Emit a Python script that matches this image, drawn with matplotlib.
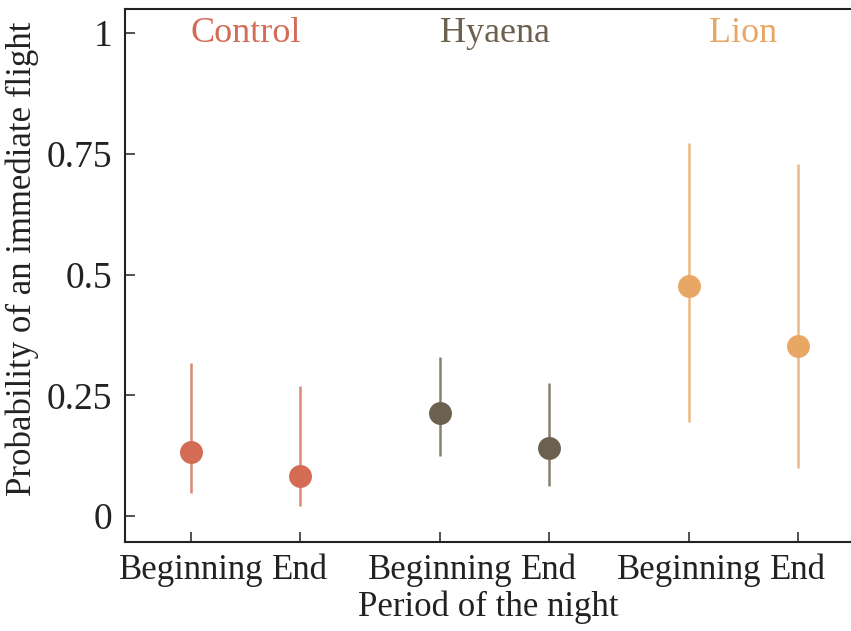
import matplotlib
matplotlib.use("Agg")
import matplotlib.pyplot as plt
import numpy as np

# Predator treatments and period of the night
groups = ["Control", "Hyaena", "Lion"]
periods = ["Beginning", "End"]

# Estimated probability of an immediate flight with 95% interval bounds
prob = [[0.133, 0.083], [0.213, 0.140], [0.477, 0.352]]
lower = [[0.048, 0.021], [0.125, 0.063], [0.194, 0.099]]
upper = [[0.316, 0.270], [0.330, 0.276], [0.772, 0.729]]

colors = ["#D36B55", "#6C604E", "#E8A765"]

yticks = [0, 0.25, 0.5, 0.75, 1]
yticklabels = ["0", "0.25", "0.5", "0.75", "1"]

plt.rcParams["font.family"] = ["Liberation Serif", "DejaVu Serif"]

W, H = 851, 631
fig = plt.figure(figsize=(W / 100, H / 100), dpi=100)
ax = fig.add_axes([125 / W, (H - 541.7) / H, (864 - 125) / W, (541.7 - 9) / H])

group_step = 2.285
xs, xlabels = [], []
for g, name in enumerate(groups):
    gx = np.arange(len(periods)) + g * group_step
    p = np.array(prob[g])
    lo = np.array(lower[g])
    hi = np.array(upper[g])
    ax.vlines(gx, lo, hi, color=colors[g], alpha=0.8, lw=1.8, zorder=2)
    ax.plot(gx, p, "o", color=colors[g], ms=16.5, mec="none", zorder=3)
    ax.text(gx.mean(), 1, name, color=colors[g], fontsize=26,
            ha="center", va="center")
    xs.extend(gx)
    xlabels.extend(periods)

ax.set_xticks(xs)
ax.set_xticklabels(xlabels, fontsize=25)
ax.set_yticks(yticks)
ax.set_yticklabels(yticklabels, fontsize=27)
ax.set_xlim(-0.607, xs[-1] + 0.607)
ax.set_ylim(-0.0532, 1.0497)

ax.tick_params(direction="in", length=7, width=1.2, color="#333333",
               labelcolor="#222222")
ax.tick_params(axis="y", pad=9)
ax.tick_params(axis="x", pad=9)
for side in ["left", "bottom", "top", "right"]:
    ax.spines[side].set_linewidth(1.5)
    ax.spines[side].set_color("#222222")

fig.text(22 / W, 1 - 259 / H, "Probability of an immediate flight",
         rotation=90, fontsize=25, ha="center", va="center", color="#222222")
fig.text(488 / W, 1 - 607 / H, "Period of the night",
         fontsize=25, ha="center", va="center", color="#222222")

fig.savefig("out.png", dpi=100)
